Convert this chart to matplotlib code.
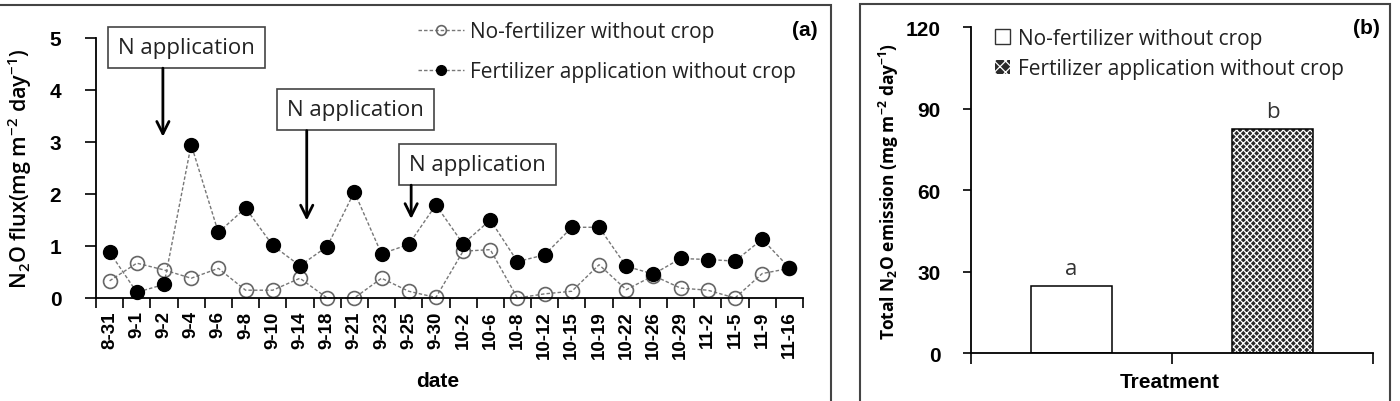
import matplotlib.pyplot as plt
from matplotlib.patches import Rectangle
from matplotlib.ticker import FixedLocator, NullFormatter

# --- data ---
dates = ["8-31", "9-1", "9-2", "9-4", "9-6", "9-8", "9-10", "9-14", "9-18", "9-21",
         "9-23", "9-25", "9-30", "10-2", "10-6", "10-8", "10-12", "10-15", "10-19",
         "10-22", "10-26", "10-29", "11-2", "11-5", "11-9", "11-16"]
no_fert = [0.33, 0.67, 0.54, 0.38, 0.57, 0.15, 0.15, 0.38, 0.0, 0.0,
           0.38, 0.13, 0.01, 0.90, 0.93, 0.0, 0.08, 0.13, 0.64,
           0.16, 0.43, 0.19, 0.15, 0.0, 0.47, 0.57]
fert = [0.88, 0.11, 0.26, 2.95, 1.26, 1.73, 1.01, 0.62, 0.99, 2.04,
        0.85, 1.03, 1.79, 1.04, 1.50, 0.70, 0.83, 1.36, 1.36,
        0.61, 0.46, 0.76, 0.74, 0.71, 1.13, 0.58]
labels = ["No-fertilizer without crop", "Fertilizer application without crop"]
# N application events: (date index of arrow, arrow top, arrow tip, box x, box y)
n_events = [(1.96, 4.42, 3.10, 2.83, 4.81),
            (7.25, 3.22, 1.49, 9.03, 3.62),
            (11.09, 2.17, 1.52, 13.53, 2.56)]
totals = [24.9, 82.6]
letters = ["a", "b"]

plt.rcParams["font.family"] = ["Open Sans", "DejaVu Sans"]
plt.rcParams["mathtext.default"] = "regular"
plt.rcParams["hatch.linewidth"] = 0.9

fig = plt.figure(figsize=(14, 4.02), dpi=100)
W, H = 1400, 402

def fx(px):
    return px / W

def fy(py):
    return 1 - py / H

# panel frames
fig.patches.append(Rectangle((fx(-5), fy(420)), fx(836), fy(6) - fy(420),
                             transform=fig.transFigure, fill=False, ec="#444444", lw=1.5))
fig.patches.append(Rectangle((fx(860), fy(420)), fx(530), fy(5) - fy(420),
                             transform=fig.transFigure, fill=False, ec="#444444", lw=1.5))

tickfont = dict(family="Liberation Sans", weight="bold")

# --- (a) flux time series ---
ax = fig.add_axes([fx(96), fy(299), fx(707), fy(39) - fy(299)])
x = list(range(len(dates)))
ax.plot(x, no_fert, ls=(0, (2.5, 1.5)), color="#777777", lw=1, marker="o", ms=10,
        mfc="none", mec="#666666", mew=1.2, label=labels[0], clip_on=False)
ax.plot(x, fert, ls=(0, (2.5, 1.5)), color="#777777", lw=1, marker="o", ms=10,
        mfc="black", mec="black", label=labels[1], clip_on=False)
ax.set_xlim(-0.5, len(dates) - 0.5)
ax.set_ylim(0, 5)
ax.set_yticks([0, 1, 2, 3, 4, 5])
ax.set_xticks(x)
ax.set_xticklabels(dates, rotation=90, fontsize=13.5, **tickfont)
ax.xaxis.set_minor_locator(FixedLocator([i - 0.5 for i in range(len(dates) + 1)]))
ax.tick_params(axis="x", which="major", length=0, pad=9)
ax.tick_params(axis="x", which="minor", length=7, width=1.2)
ax.tick_params(axis="y", length=8, width=1.2, pad=17)
for t in ax.get_yticklabels():
    t.set_fontsize(15)
    t.set_fontfamily("Liberation Sans")
    t.set_fontweight("bold")
for s in ["top", "right"]:
    ax.spines[s].set_visible(False)
for s in ["left", "bottom"]:
    ax.spines[s].set_linewidth(1.3)

for xa, ytop, ytip, bx, by in n_events:
    ax.text(bx, by, "N application", fontsize=16, ha="center", va="center",
            color="#222222", clip_on=False,
            bbox=dict(boxstyle="square,pad=0.45", fc="white", ec="#444444", lw=1.2))
    ax.annotate("", xy=(xa, ytip), xytext=(xa, ytop), annotation_clip=False,
                arrowprops=dict(arrowstyle="->", lw=2, color="black", mutation_scale=22,
                                shrinkA=0, shrinkB=0))

leg = ax.legend(loc="upper left", bbox_to_anchor=(fx(418), fy(22)), bbox_transform=fig.transFigure,
                frameon=False, fontsize=15, handlelength=2.2, handletextpad=0.3,
                labelspacing=0.92, borderpad=0, borderaxespad=0, markerscale=0.7)
for t in leg.get_texts():
    t.set_color("#222222")

fig.text(fx(20), fy(169), "N$_2$O flux(mg m$^{-2}$ day$^{-1}$)", rotation=90,
         ha="center", va="center", fontsize=15.5, fontweight="semibold")
fig.text(fx(438), fy(382), "date", ha="center", va="center", fontsize=15, **tickfont)
fig.text(fx(805), fy(31), "(a)", ha="center", va="center", fontsize=15, **tickfont)

# --- (b) total emission ---
bx_ax = fig.add_axes([fx(971), fy(354.3), fx(402), fy(28.3) - fy(354.3)])
bars = bx_ax.bar([0, 1], totals, width=0.4, color=["white", "#2a2a2a"],
                 edgecolor="white", lw=0, hatch=[None, "xxxxx"], label=labels)
bars[0].set_hatch("")
bx_ax.bar([0, 1], totals, width=0.4, fill=False, edgecolor="black", lw=1.1)
for i, (v, lt) in enumerate(zip(totals, letters)):
    bx_ax.text(i, v + 2.5, lt, ha="center", va="bottom", fontsize=16, color="#333333")
bx_ax.set_xlim(-0.5, 1.5)
bx_ax.set_ylim(0, 120)
bx_ax.set_yticks([0, 30, 60, 90, 120])
bx_ax.set_xticks([])
bx_ax.xaxis.set_minor_locator(FixedLocator([-0.5, 0.5, 1.5]))
bx_ax.xaxis.set_minor_formatter(NullFormatter())
bx_ax.tick_params(axis="x", which="minor", length=8, width=1.2)
bx_ax.tick_params(axis="y", length=6, width=1.2, pad=16)
for t in bx_ax.get_yticklabels():
    t.set_fontsize(15)
    t.set_fontfamily("Liberation Sans")
    t.set_fontweight("bold")
for s in ["top", "right"]:
    bx_ax.spines[s].set_visible(False)
for s in ["left", "bottom"]:
    bx_ax.spines[s].set_linewidth(1.3)

h1 = Rectangle((0, 0), 1, 1, fc="white", ec="#333333", lw=1)
h2 = Rectangle((0, 0), 1, 1, fc="#2a2a2a", ec="white", lw=0, hatch="xxx")
leg2 = bx_ax.legend([h1, h2], labels, loc="upper left", bbox_to_anchor=(fx(995), fy(29)),
                    bbox_transform=fig.transFigure, frameon=False, fontsize=15,
                    handlelength=0.7, handleheight=0.7, handletextpad=0.4,
                    labelspacing=0.45, borderpad=0, borderaxespad=0)
for t in leg2.get_texts():
    t.set_color("#222222")

fig.text(fx(889), fy(191), "Total N$_2$O emission (mg m$^{-2}$ day$^{-1}$)", rotation=90,
         ha="center", va="center", fontsize=12.5, fontweight="bold")
fig.text(fx(1170), fy(383), "Treatment", ha="center", va="center", fontsize=15, **tickfont)
fig.text(fx(1366), fy(29), "(b)", ha="center", va="center", fontsize=15, **tickfont)

fig.savefig("out.png", dpi=100)
